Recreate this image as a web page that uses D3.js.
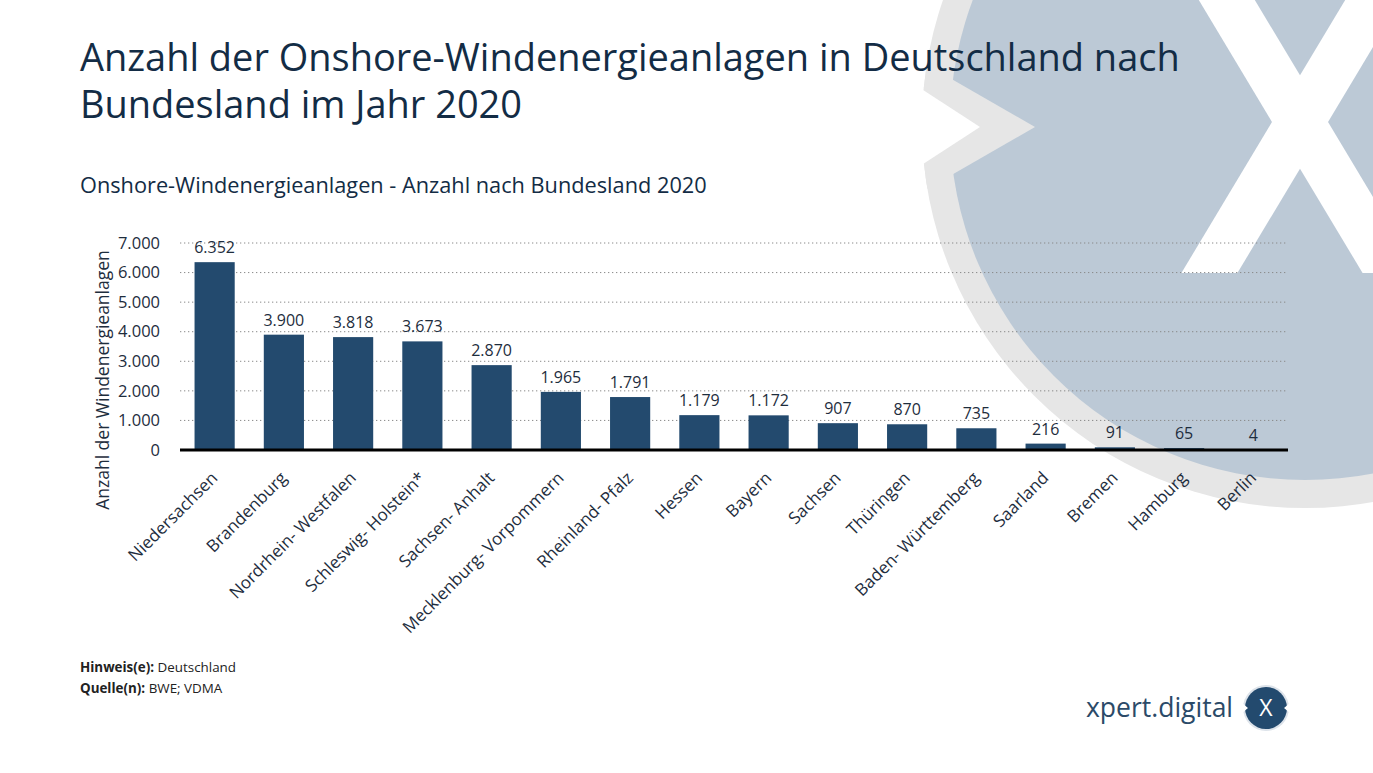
<!DOCTYPE html>
<html><head><meta charset="utf-8">
<script src="https://cdn.jsdelivr.net/npm/d3@7/dist/d3.min.js"></script>
<style>
html,body{margin:0;padding:0;background:#fff;}
svg{display:block;font-family:"Open Sans","Noto Sans",sans-serif;}
</style></head>
<body>
<svg id="chart" width="1373" height="773"></svg>
<script>
const categories = ["Niedersachsen","Brandenburg","Nordrhein- Westfalen","Schleswig- Holstein*","Sachsen- Anhalt","Mecklenburg- Vorpommern","Rheinland- Pfalz","Hessen","Bayern","Sachsen","Thüringen","Baden- Württemberg","Saarland","Bremen","Hamburg","Berlin"];
const values = [6352,3900,3818,3673,2870,1965,1791,1179,1172,907,870,735,216,91,65,4];
const yTicks = [0,1000,2000,3000,4000,5000,6000,7000];
const titleLines = ["Anzahl der Onshore-Windenergieanlagen in Deutschland nach","Bundesland im Jahr 2020"];
const subtitle = "Onshore-Windenergieanlagen - Anzahl nach Bundesland 2020";
const yAxisTitle = "Anzahl der Windenergieanlagen";
const notes = [["Hinweis(e):"," Deutschland"],["Quelle(n):"," BWE; VDMA"]];

const svg = d3.select("#chart");
const fmt = d3.formatLocale({decimal:",",thousands:".",grouping:[3],currency:["","€"]}).format(",d");

// ---- background decoration ----
const bg = svg.append("g");
const cx = 1305, cy = 125;
const defs = svg.append("defs");
defs.append("clipPath").attr("id","outerClip").append("circle").attr("cx",cx).attr("cy",cy).attr("r",383);
defs.append("clipPath").attr("id","innerClip").append("circle").attr("cx",cx).attr("cy",cy).attr("r",355);
bg.append("circle").attr("cx",cx).attr("cy",cy).attr("r",383).attr("fill","#e6e6e6");
bg.append("circle").attr("cx",cx).attr("cy",cy).attr("r",355).attr("fill","#bcc9d6");
bg.append("path").attr("clip-path","url(#outerClip)")
  .attr("d","M870,32 L1035,127 L870,222 Z").attr("fill","#e6e6e6");
bg.append("path").attr("d","M860,49 L980,127 L860,205 Z").attr("fill","#fff");
const xg = bg.append("g").attr("clip-path","url(#innerClip)").attr("fill","#fff");
const xc = 1300, yc = 122, s = 0.6, hw = 28, yTop = -60, yBot = 273;
const strokeA = [[xc+s*(yTop-yc)-hw,yTop],[xc+s*(yTop-yc)+hw,yTop],[xc+s*(yBot-yc)+hw,yBot],[xc+s*(yBot-yc)-hw,yBot]];
const strokeB = [[xc-s*(yTop-yc)-hw,yTop],[xc-s*(yTop-yc)+hw,yTop],[xc-s*(yBot-yc)+hw,yBot],[xc-s*(yBot-yc)-hw,yBot]];
[strokeA,strokeB].forEach(p=>xg.append("path").attr("d","M"+p.map(q=>q.join(",")).join("L")+"Z"));

// ---- titles ----
function fitText(sel, target){
  const w = sel.node().getComputedTextLength();
  const fs = parseFloat(sel.attr("font-size"));
  sel.attr("font-size", fs*target/w);
}
const titleColor = "#132c45";
const t1 = svg.append("text").attr("x",80).attr("y",71).attr("font-size",36).attr("fill",titleColor).text(titleLines[0]);
fitText(t1, 1100);
const t2 = svg.append("text").attr("x",80).attr("y",118).attr("font-size",t1.attr("font-size")).attr("fill",titleColor).text(titleLines[1]);
const st = svg.append("text").attr("x",80).attr("y",193).attr("font-size",20).attr("fill",titleColor).text(subtitle);
fitText(st, 627);

// ---- chart ----
const x0 = 180, x1 = 1288, y0 = 450, y1 = 243;
const x = d3.scaleBand().domain(categories).range([x0,x1]).paddingInner(0.42).paddingOuter(0.21);
const y = d3.scaleLinear().domain([0,7000]).range([y0,y1]);

const grid = svg.append("g");
grid.selectAll("line").data(yTicks.filter(d=>d>0)).join("line")
  .attr("x1",x0).attr("x2",x1).attr("y1",d=>y(d)).attr("y2",d=>y(d))
  .attr("stroke","#8a8a8a").attr("stroke-width",1).attr("stroke-dasharray","1.3,2.7");

const yAxis = svg.append("g").attr("transform",`translate(${x0},0)`)
  .call(d3.axisLeft(y).tickValues(yTicks).tickFormat(fmt).tickSize(0).tickPadding(20));
yAxis.select(".domain").remove();
yAxis.selectAll("text").attr("font-size",16.5).attr("fill","#1e2d3d").attr("font-family","'Open Sans',sans-serif");

svg.append("g").selectAll("rect").data(values).join("rect")
  .attr("x",(d,i)=>x(categories[i])).attr("width",x.bandwidth())
  .attr("y",d=>y(d)).attr("height",d=>y0-y(d)).attr("fill","#234a6e");

svg.append("g").selectAll("text").data(values).join("text")
  .attr("x",(d,i)=>x(categories[i])+x.bandwidth()/2).attr("y",d=>y(d)-9)
  .attr("text-anchor","middle").attr("font-size",16).attr("fill","#1e2d3d").text(d=>fmt(d));

svg.append("line").attr("x1",x0).attr("x2",x1).attr("y1",y0).attr("y2",y0)
  .attr("stroke","#000").attr("stroke-width",3);

const xAxis = svg.append("g").attr("transform",`translate(0,${y0})`)
  .call(d3.axisBottom(x).tickSize(0).tickPadding(0));
xAxis.select(".domain").remove();
xAxis.selectAll("text")
  .attr("font-size",17).attr("fill","#1e2d3d").attr("font-family","'Open Sans',sans-serif")
  .attr("text-anchor","end").attr("dy",null).attr("y",null)
  .attr("transform","translate(4,29) rotate(-45)");

svg.append("text").attr("transform",`translate(109,380) rotate(-90)`)
  .attr("text-anchor","middle").attr("font-size",17.5).attr("fill","#1e2d3d").text(yAxisTitle);

// ---- footer ----
notes.forEach((n,i)=>{
  const t = svg.append("text").attr("x",80).attr("y",672+i*21).attr("font-size",13.4).attr("fill","#222");
  t.append("tspan").attr("font-weight","bold").text(n[0]);
  t.append("tspan").text(n[1]);
});

// ---- logo ----
svg.append("text").attr("x",1086).attr("y",717).attr("font-size",26.5).attr("fill","#2b4a68").text("xpert.digital");
const lg = svg.append("g").attr("transform","translate(1266,708)");
lg.append("circle").attr("r",23).attr("fill","#dde3ea");
lg.append("circle").attr("r",21).attr("fill","#234a6e");
lg.append("path").attr("d","M-24,-5 L-18,0 L-24,5 Z M24,-5 L18,0 L24,5 Z").attr("fill","#fff");
lg.append("text").attr("y",8).attr("text-anchor","middle").attr("font-size",23).attr("fill","#fff").text("X");
</script>
</body></html>
